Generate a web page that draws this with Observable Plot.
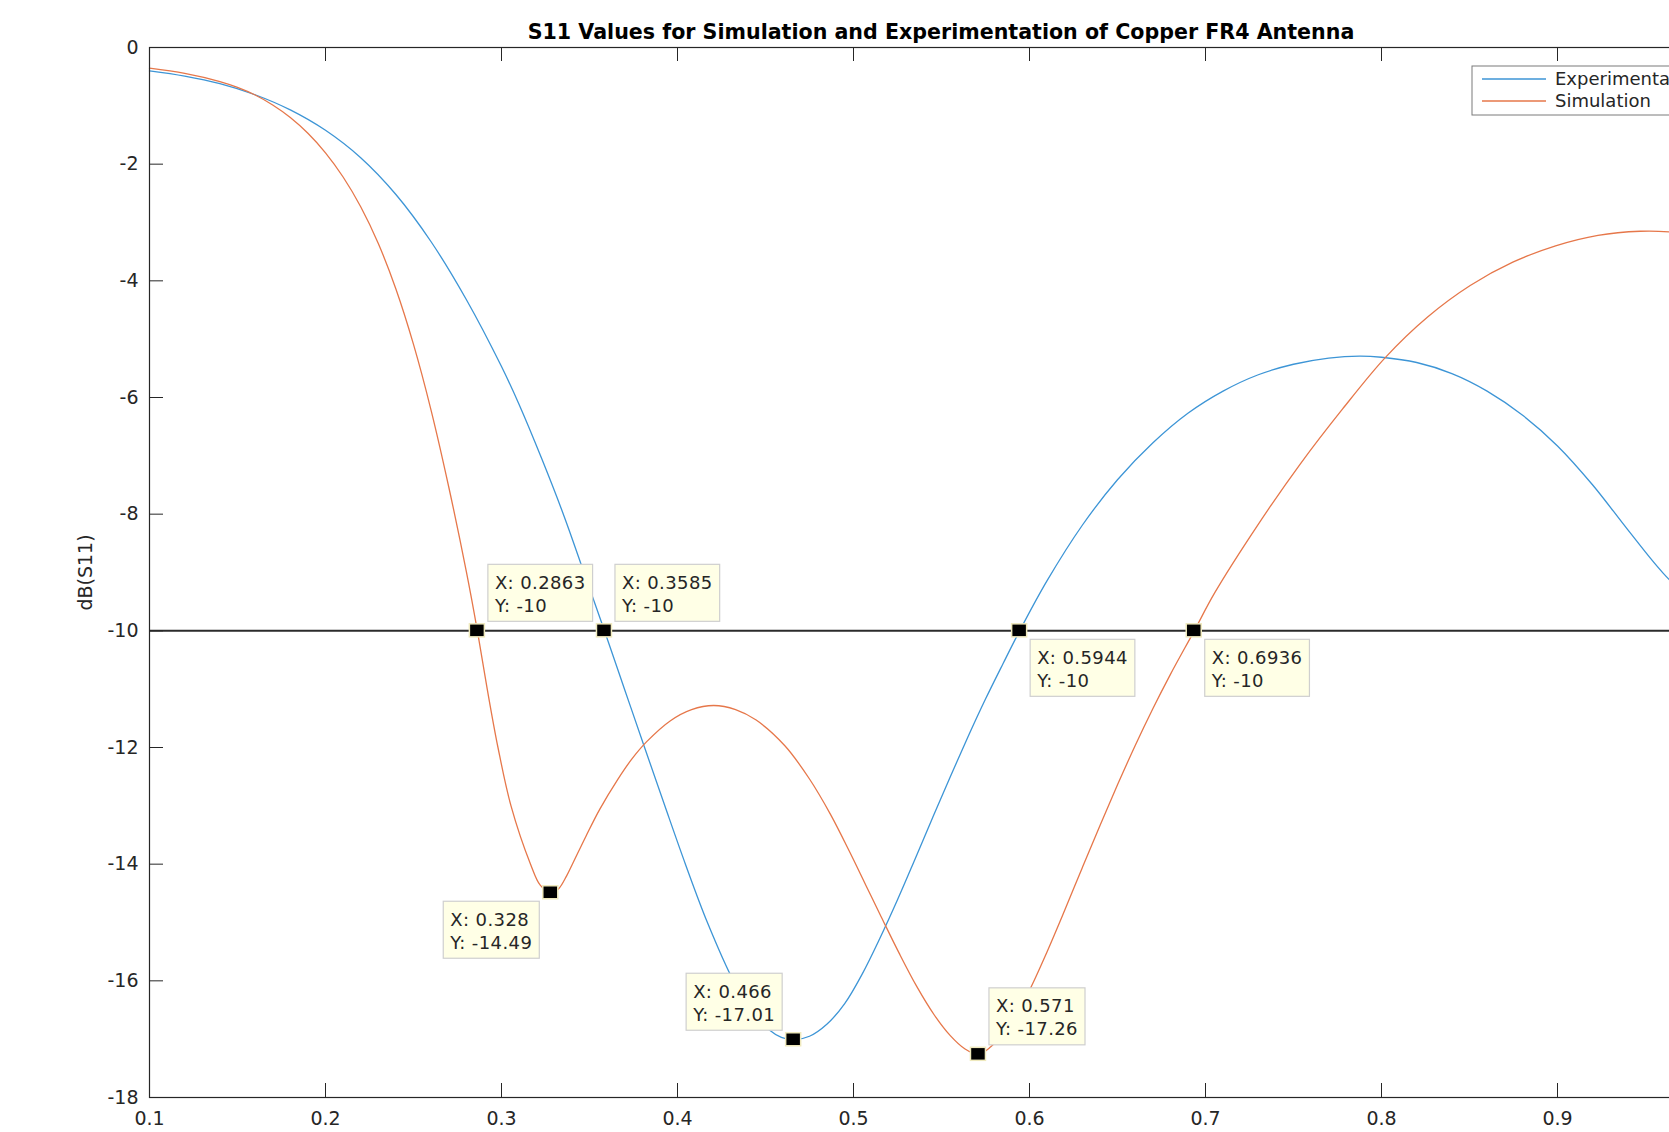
<!DOCTYPE html>
<html><head><meta charset="utf-8">
<script src="https://cdn.jsdelivr.net/npm/d3@7"></script>
<script src="https://cdn.jsdelivr.net/npm/@observablehq/plot@0.6"></script>
<style>
body{margin:0;background:#fff;}
#wrap{position:relative;width:1669px;height:1132px;overflow:hidden;background:#fff;}
#title{position:absolute;left:149px;width:1584px;top:19px;line-height:26px;text-align:center;font-family:"DejaVu Sans",sans-serif;font-weight:bold;font-size:20.6px;color:#000;}
</style></head><body>
<div id="wrap"><div id="title">S11 Values for Simulation and Experimentation of Copper FR4 Antenna</div></div>
<script>
// ---- data ----
const seriesNames = ["Experimental", "Simulation"];
const expFreq = [0.100,0.120,0.140,0.160,0.180,0.200,0.220,0.240,0.260,0.280,0.300,0.310,0.323,0.3355,0.3471,0.3585,0.3699,0.3813,0.3928,0.4045,0.417,0.4318,0.4425,0.452,0.459,0.466,0.475,0.485,0.495,0.505,0.515,0.525,0.535,0.545,0.555,0.565,0.575,0.585,0.5944,0.610,0.630,0.650,0.670,0.690,0.710,0.730,0.750,0.770,0.7875,0.800,0.820,0.840,0.860,0.880,0.900,0.920,0.940,0.960,0.980,1.000];
const expS11  = [-0.40,-0.49,-0.62,-0.81,-1.07,-1.42,-1.89,-2.52,-3.33,-4.32,-5.47,-6.12,-7.06,-8.03,-9.02,-10.00,-11.00,-12.00,-13.00,-14.00,-15.00,-16.00,-16.53,-16.84,-16.97,-17.01,-16.95,-16.74,-16.39,-15.88,-15.27,-14.61,-13.91,-13.20,-12.50,-11.82,-11.17,-10.56,-10.00,-9.14,-8.19,-7.41,-6.78,-6.27,-5.89,-5.61,-5.43,-5.325,-5.29,-5.31,-5.40,-5.59,-5.89,-6.30,-6.83,-7.50,-8.27,-9.01,-9.59,-9.97];
const simFreq = [0.100,0.120,0.140,0.150,0.160,0.170,0.180,0.190,0.200,0.210,0.220,0.230,0.240,0.250,0.260,0.270,0.280,0.2863,0.2919,0.2980,0.3054,0.3165,0.322,0.328,0.3325,0.337,0.3406,0.348,0.3558,0.366,0.374,0.3825,0.396,0.408,0.4206,0.433,0.4447,0.461,0.475,0.487,0.498,0.507,0.5157,0.526,0.536,0.546,0.555,0.563,0.571,0.578,0.585,0.592,0.600,0.610,0.620,0.630,0.640,0.650,0.660,0.670,0.680,0.6936,0.7052,0.7294,0.7536,0.7778,0.802,0.8262,0.8504,0.8746,0.8989,0.923,0.947,0.9636,0.980,1.000];
const simS11  = [-0.355,-0.445,-0.585,-0.685,-0.815,-0.985,-1.20,-1.47,-1.805,-2.22,-2.73,-3.36,-4.14,-5.09,-6.22,-7.53,-8.98,-10.00,-11.00,-12.00,-13.00,-14.00,-14.36,-14.49,-14.42,-14.20,-13.98,-13.52,-13.06,-12.55,-12.20,-11.90,-11.54,-11.35,-11.28,-11.35,-11.53,-11.97,-12.54,-13.15,-13.80,-14.36,-14.90,-15.53,-16.10,-16.59,-16.94,-17.16,-17.26,-17.13,-16.90,-16.60,-16.16,-15.50,-14.79,-14.06,-13.34,-12.64,-11.97,-11.34,-10.75,-10.00,-9.35,-8.20,-7.15,-6.20,-5.32,-4.62,-4.08,-3.68,-3.40,-3.22,-3.15,-3.16,-3.22,-3.32];
const threshold = -10;
const xTicks = [0.1,0.2,0.3,0.4,0.5,0.6,0.7,0.8,0.9,1.0];
const xTickLabels = [0.1,0.2,0.3,0.4,0.5,0.6,0.7,0.8,0.9];
const yTicks = [0,-2,-4,-6,-8,-10,-12,-14,-16,-18];
const tipFreq = [0.2863,0.3585,0.5944,0.6936,0.328,0.466,0.571];
const tipS11  = [-10,-10,-10,-10,-14.49,-17.01,-17.26];
const tipSide = ["ur","ur","dr","dr","dl","ul","ur"];

// ---- build ----
const rows = [
  ...expFreq.map((f,i)=>({f, s: expS11[i], series: seriesNames[0]})),
  ...simFreq.map((f,i)=>({f, s: simS11[i], series: seriesNames[1]}))
];
const colors = ["#3d95d6", "#e6774a"];
const ink = "#262626";
const font = "'DejaVu Sans', sans-serif";
const W = 1773, H = 1132, ML = 149, MT = 47, MB = 35, MR = W - 1733;
const plotH = H - MT - MB, plotW = W - ML - MR;
const tickLen = 14;

const chart = Plot.plot({
  width: W, height: H,
  marginLeft: ML, marginRight: MR, marginTop: MT, marginBottom: MB,
  style: {maxWidth: "none", fontFamily: font, fontSize: "19px", color: ink, background: "transparent", overflow: "visible"},
  x: {domain: [0.1, 1.0]},
  y: {domain: [-18, 0]},
  color: {domain: seriesNames, range: colors},
  marks: [
    Plot.ruleY([threshold], {stroke: "#2b2b2b", strokeWidth: 2}),
    Plot.line(rows, {x: "f", y: "s", stroke: "series", curve: "catmull-rom", strokeWidth: 1.3}),
    Plot.frame({stroke: ink, strokeWidth: 1.2}),
    Plot.tickX(xTicks, {x: d => d, insetTop: plotH - tickLen, stroke: ink}),
    Plot.tickX(xTicks, {x: d => d, insetBottom: plotH - tickLen, stroke: ink}),
    Plot.tickY(yTicks, {y: d => d, insetRight: plotW - tickLen, stroke: ink}),
    Plot.axisX(xTickLabels, {tickSize: 0, tickPadding: 14, tickFormat: d => d.toFixed(1), label: null, fill: ink}),
    Plot.axisY(yTicks, {tickSize: 0, tickPadding: 11, tickFormat: d => String(d), label: "dB(S11)", labelAnchor: "center", labelOffset: 71, labelArrow: "none", fill: ink})
  ]
});
document.getElementById("wrap").appendChild(chart);

const sx = chart.scale("x"), sy = chart.scale("y");
const svg = d3.select(chart);

// legend (top-right inside the axes)
const lg = svg.append("g").attr("text-anchor", "start");
const lx = sx.apply(1.0) - 261, ly = 66;
lg.append("rect").attr("x", lx).attr("y", ly).attr("width", 250).attr("height", 49)
  .attr("fill", "#fff").attr("stroke", "#7a7a7a").attr("stroke-width", 1);
seriesNames.forEach((n, i) => {
  const yy = ly + 13 + i * 22;
  lg.append("line").attr("x1", lx + 10).attr("x2", lx + 74).attr("y1", yy).attr("y2", yy)
    .attr("stroke", colors[i]).attr("stroke-width", 1.3);
  lg.append("text").attr("x", lx + 83).attr("y", yy).attr("dy", "0.35em").attr("text-anchor", "start")
    .attr("font-family", font).attr("font-size", 18).attr("fill", ink).text(n);
});

// data tips
const tg = svg.append("g").attr("text-anchor", "start");
tipFreq.forEach((f, i) => {
  const px = sx.apply(f), py = sy.apply(tipS11[i]);
  const g = tg.append("g");
  const box = g.append("rect");
  const t1 = g.append("text").text("X: " + f);
  const t2 = g.append("text").text("Y: " + tipS11[i]);
  [t1, t2].forEach(t => t.attr("font-family", font).attr("font-size", 18).attr("text-anchor", "start")
    .attr("letter-spacing", "0.4px").attr("fill", ink));
  const tw = Math.max(t1.node().getComputedTextLength(), t2.node().getComputedTextLength());
  const bw = tw + 14, bh = 57;
  const side = tipSide[i];
  const bx = side[1] === "r" ? px + 11 : px - 11 - bw;
  const by = side[0] === "u" ? py - 9 - bh : py + 9;
  box.attr("x", bx).attr("y", by).attr("width", bw).attr("height", bh)
    .attr("fill", "#ffffe6").attr("stroke", "#cfcfcf").attr("stroke-width", 1.2);
  t1.attr("x", bx + 7).attr("y", by + 18).attr("dy", "0.36em");
  t2.attr("x", bx + 7).attr("y", by + 41).attr("dy", "0.36em");
  tg.append("rect").attr("x", px - 7.5).attr("y", py - 6.5).attr("width", 15).attr("height", 13)
    .attr("fill", "#000").attr("stroke", "#efe9bd").attr("stroke-width", 1.5);
});
</script>
</body></html>
